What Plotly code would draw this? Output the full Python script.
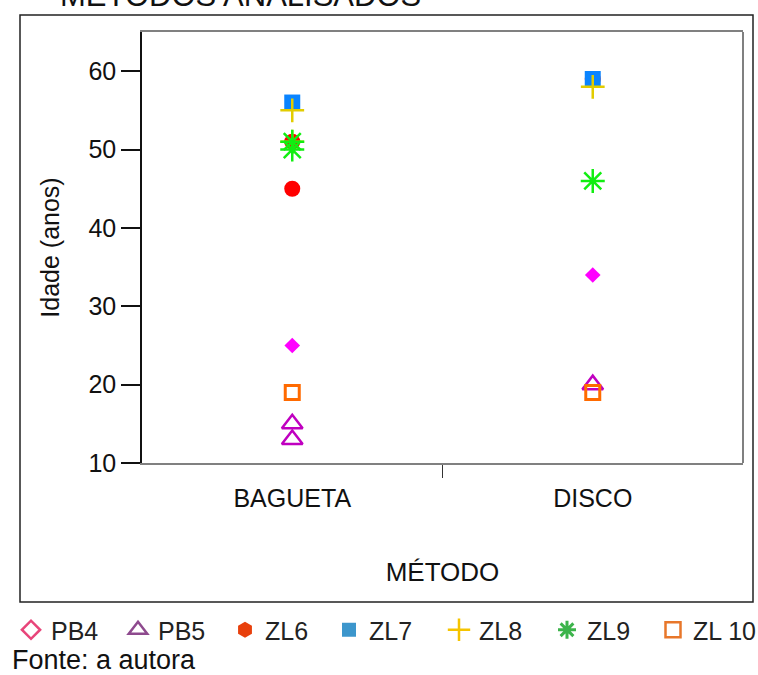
import plotly.graph_objects as go

# ---- data ----
categories = ["BAGUETA", "DISCO"]
series_names = ["PB4", "PB5", "ZL6", "ZL7", "ZL8", "ZL9", "ZL 10"]
pb4_x = [0, 1];       pb4_y = [25, 34]
pb5_x = [0, 0, 1];    pb5_y = [15, 13, 20]
zl6_x = [0, 0, 1];    zl6_y = [45, 51, 59]
zl7_x = [0, 1];       zl7_y = [56, 59]
zl8_x = [0, 0, 1];    zl8_y = [55, 51, 58]
zl9_x = [0, 0, 1];    zl9_y = [51, 50, 46]
zl10_x = [0, 1];      zl10_y = [19, 19]
y_ticks = [10, 20, 30, 40, 50, 60]

FONT = "Liberation Sans, Arial, sans-serif"
W, H = 758, 675
L, R, T, B = 142, 15, 32, 212
PW, PH = W - L - R, H - T - B

def px(x):  # pixel -> paper x
    return (x - L) / PW

def py(y):  # pixel -> paper y
    return (H - B - y) / PH

fig = go.Figure()

plot_styles = [
    (pb4_x, pb4_y, dict(symbol="diamond", color="#ff00ff", size=12, line=dict(width=0))),
    (pb5_x, pb5_y, dict(symbol="triangle-up-open", color="#c000c0", size=18, line=dict(width=2.5, color="#c000c0"))),
    (zl6_x, zl6_y, dict(symbol="circle", color="#ff0000", size=16, line=dict(width=0))),
    (zl7_x, zl7_y, dict(symbol="square", color="#0a84ff", size=16, line=dict(width=0))),
    (zl8_x, zl8_y, dict(symbol="cross-thin-open", color="#e2cc00", size=17, line=dict(width=2.5, color="#e2cc00"))),
    (zl9_x, zl9_y, dict(symbol="asterisk-open", color="#11ee11", size=20, line=dict(width=2.5, color="#11ee11"))),
    (zl10_x, zl10_y, dict(symbol="square-open", color="#ff6a00", size=14, line=dict(width=3, color="#ff6a00"))),
]
for name, (xs, ys, mk) in zip(series_names, plot_styles):
    fig.add_trace(go.Scatter(x=xs, y=ys, mode="markers", marker=mk, name=name,
                             showlegend=False, cliponaxis=False))

legend_styles = [
    dict(symbol="diamond-open", color="#e8457a", size=14, line=dict(width=2.5, color="#e8457a")),
    dict(symbol="triangle-up-open", color="#8e4a8e", size=16, line=dict(width=2.5, color="#8e4a8e")),
    dict(symbol="hexagon", color="#e8400c", size=16, line=dict(width=0)),
    dict(symbol="square", color="#3c96cc", size=14, line=dict(width=0)),
    dict(symbol="cross-thin-open", color="#f5c400", size=16, line=dict(width=2.5, color="#f5c400")),
    dict(symbol="asterisk-open", color="#3cb44b", size=15, line=dict(width=3, color="#3cb44b")),
    dict(symbol="square-open", color="#e8772a", size=15, line=dict(width=2.5, color="#e8772a")),
]
# left edge (px) of each legend entry's text in the reference
legend_text_x = [48, 155, 262, 366, 476, 584, 690]
legend_ids = ["legend"] + ["legend%d" % i for i in range(2, 8)]

legend_layout = {}
for name, mk, lid, tx in zip(series_names, legend_styles, legend_ids, legend_text_x):
    fig.add_trace(go.Scatter(x=[None], y=[None], mode="markers", marker=mk, name=name,
                             showlegend=True, legend=lid))
    legend_layout[lid] = dict(orientation="h", x=px(tx - 37), xanchor="left",
                              y=py(630), yanchor="middle", itemwidth=30,
                              font=dict(size=25, family=FONT, color="#222222"),
                              bgcolor="rgba(0,0,0,0)", borderwidth=0)

fig.update_layout(
    width=W, height=H,
    margin=dict(l=L, r=R, t=T, b=B, autoexpand=False),
    paper_bgcolor="white", plot_bgcolor="white",
    font=dict(family=FONT, size=25, color="#111111"),
    showlegend=True,
    xaxis=dict(range=[-0.5, 1.5], tickmode="array", tickvals=[0, 1], ticktext=categories,
               ticks="", showgrid=False, zeroline=False,
               showline=True, linecolor="#808080", linewidth=2, mirror=True,
               tickfont=dict(size=25, family=FONT, color="#111111"),
               ticklabelstandoff=12,
               minor=dict(tickmode="array", tickvals=[0.5], ticks="outside", ticklen=13,
                          tickwidth=1, tickcolor="#333333", showgrid=False),
               title=dict(text="MÉTODO", standoff=52, font=dict(size=26, family=FONT, color="#111111"))),
    yaxis=dict(range=[10, 65], tickmode="array", tickvals=y_ticks,
               ticks="outside", ticklen=19, tickwidth=2, tickcolor="#111111",
               showgrid=False, zeroline=False,
               showline=True, linecolor="#111111", linewidth=1.5,
               tickfont=dict(size=25, family=FONT, color="#111111"),
               title=dict(text="Idade (anos)", standoff=22, font=dict(size=25, family=FONT, color="#111111"))),
    shapes=[
        dict(type="rect", xref="paper", yref="paper", x0=px(20), x1=px(753), y0=py(602), y1=py(15),
             line=dict(color="#222222", width=1.5), fillcolor="rgba(0,0,0,0)", layer="below"),
        dict(type="line", xref="paper", yref="paper", x0=1, x1=1, y0=0, y1=1,
             line=dict(color="#808080", width=2)),
    ],
    annotations=[
        dict(text="MÉTODOS ANALISADOS", xref="paper", yref="paper", x=px(240), y=py(15),
             xanchor="center", yanchor="bottom", showarrow=False,
             font=dict(size=31, family=FONT, color="#111111")),
        dict(text="Fonte: a autora", xref="paper", yref="paper", x=px(10), y=py(660),
             xanchor="left", yanchor="middle", showarrow=False,
             font=dict(size=27, family=FONT, color="#111111")),
    ],
    **legend_layout,
)

fig.write_html("out.html", config={"displayModeBar": False},
               post_script="document.body.style.margin='0';document.body.style.overflow='hidden';")
